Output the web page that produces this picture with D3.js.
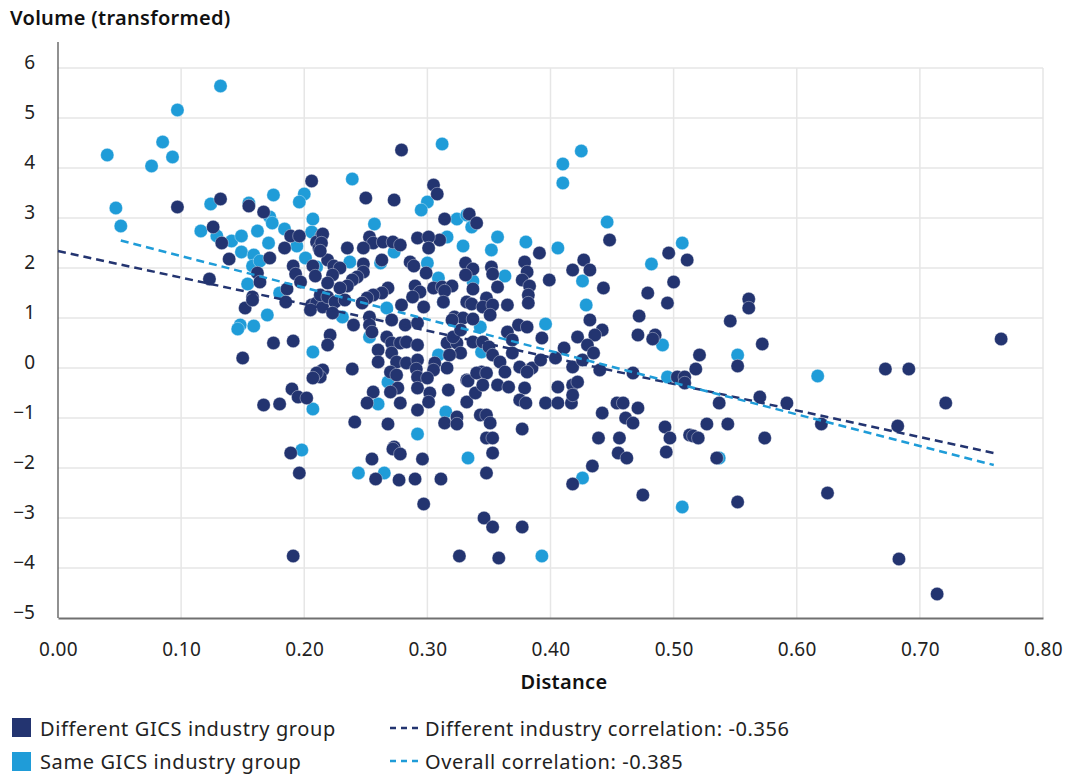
<!DOCTYPE html>
<html><head><meta charset="utf-8">
<script src="https://cdn.jsdelivr.net/npm/d3@7"></script>
<style>body{margin:0;background:#fff}svg{font-family:"Noto Sans",sans-serif}</style>
</head><body><svg id="c" width="1070" height="774"></svg>
<script>
// ---------- data ----------
const xTicks = [0, 0.1, 0.2, 0.3, 0.4, 0.5, 0.6, 0.7, 0.8];
const yTicks = [-5, -4, -3, -2, -1, 0, 1, 2, 3, 4, 5, 6];
const seriesNames = ["Different GICS industry group", "Same GICS industry group"];
const lineNames = ["Different industry correlation: -0.356", "Overall correlation: -0.385"];

// Same GICS industry group (light)
const sameDistance = [
0.047,0.051,0.040,0.076,0.085,0.093,0.097,0.132,0.124,0.155,
0.175,0.172,0.174,0.116,0.129,0.141,0.149,0.162,0.171,0.184,
0.206,0.194,0.149,0.159,0.158,0.164,0.201,0.210,0.154,0.180,
0.200,0.196,0.207,0.239,0.300,0.295,0.312,0.257,0.324,0.332,
0.336,0.316,0.329,0.273,0.262,0.237,0.300,0.309,0.337,0.313,
0.410,0.410,0.425,0.446,0.507,0.482,0.491,0.357,0.352,0.380,
0.406,0.426,0.429,0.396,0.363,0.343,0.231,0.253,0.309,0.268,
0.260,0.315,0.292,0.170,0.148,0.146,0.159,0.207,0.207,0.198,
0.244,0.265,0.333,0.426,0.507,0.393,0.495,0.552,0.537,0.617,
0.267,0.344];
const sameVolume = [
3.20,2.84,4.26,4.04,4.52,4.22,5.16,5.64,3.28,3.30,
3.46,3.02,2.90,2.74,2.64,2.54,2.64,2.74,2.50,2.78,
2.72,2.44,2.32,2.26,2.04,2.14,2.20,2.02,1.68,1.50,
3.48,3.32,2.98,3.78,3.32,3.16,4.48,2.88,2.98,3.06,
2.82,2.62,2.44,2.32,2.10,2.12,2.10,1.80,1.74,1.32,
3.70,4.08,4.34,2.92,2.50,2.08,0.46,2.62,2.36,2.52,
2.40,1.74,1.26,0.88,1.84,0.82,1.02,0.62,0.26,-0.28,
-0.72,-0.88,-1.32,1.06,0.86,0.78,0.84,0.32,-0.82,-1.64,
-2.10,-2.10,-1.80,-2.20,-2.78,-3.76,-0.18,0.26,-1.80,-0.16,
1.20,0.32];

// Different GICS industry group (dark)
const diffDistance = [
0.097,0.132,0.155,0.167,0.126,0.133,0.184,0.189,0.196,0.214,
0.210,0.212,0.139,0.172,0.191,0.193,0.197,0.207,0.209,0.219,
0.123,0.162,0.164,0.158,0.152,0.186,0.185,0.206,0.210,0.215,
0.206,0.250,0.273,0.305,0.308,0.279,0.314,0.334,0.340,0.310,
0.292,0.301,0.301,0.215,0.214,0.213,0.235,0.253,0.256,0.248,
0.264,0.272,0.278,0.263,0.224,0.229,0.248,0.248,0.286,0.289,
0.299,0.331,0.337,0.331,0.243,0.239,0.235,0.229,0.223,0.219,
0.268,0.263,0.256,0.251,0.290,0.294,0.288,0.305,0.312,0.320,
0.332,0.213,0.219,0.225,0.233,0.448,0.496,0.511,0.500,0.479,
0.495,0.472,0.471,0.485,0.483,0.391,0.427,0.418,0.432,0.443,
0.432,0.442,0.436,0.399,0.379,0.381,0.377,0.383,0.382,0.382,
0.352,0.353,0.314,0.313,0.337,0.336,0.357,0.348,0.345,0.353,
0.365,0.351,0.322,0.329,0.337,0.374,0.381,0.365,0.369,0.393,
0.411,0.422,0.430,0.316,0.324,0.337,0.345,0.350,0.353,0.369,
0.316,0.327,0.344,0.359,0.375,0.385,0.392,0.404,0.418,0.426,
0.435,0.440,0.467,0.503,0.509,0.223,0.240,0.221,0.219,0.253,
0.253,0.255,0.267,0.260,0.271,0.278,0.283,0.292,0.271,0.275,
0.260,0.283,0.292,0.291,0.306,0.305,0.318,0.321,0.327,0.320,
0.270,0.275,0.292,0.300,0.215,0.213,0.239,0.276,0.270,0.256,
0.251,0.278,0.292,0.302,0.301,0.292,0.317,0.332,0.332,0.324,
0.314,0.324,0.241,0.268,0.273,0.158,0.205,0.175,0.191,0.150,
0.210,0.207,0.190,0.195,0.202,0.167,0.180,0.189,0.196,0.191,
0.255,0.272,0.278,0.296,0.258,0.277,0.290,0.311,0.297,0.326,
0.346,0.353,0.377,0.358,0.333,0.340,0.348,0.363,0.381,0.339,
0.345,0.357,0.366,0.379,0.375,0.380,0.396,0.406,0.417,0.406,
0.418,0.422,0.418,0.343,0.348,0.351,0.377,0.348,0.353,0.353,
0.348,0.442,0.454,0.459,0.471,0.461,0.467,0.439,0.456,0.455,
0.462,0.434,0.418,0.475,0.493,0.497,0.494,0.513,0.561,0.561,
0.546,0.572,0.521,0.518,0.552,0.509,0.570,0.537,0.592,0.527,
0.544,0.516,0.520,0.574,0.535,0.672,0.691,0.766,0.721,0.620,
0.682,0.625,0.552,0.683,0.714,0.279,0.297,0.247,0.271,0.282,
0.292];
const diffVolume = [
3.22,3.38,3.24,3.12,2.82,2.50,2.40,2.64,2.64,2.64,
2.52,2.40,2.18,2.20,2.04,1.88,1.72,2.04,1.84,2.16,
1.78,1.90,1.72,1.42,1.20,1.58,1.32,1.26,1.30,1.22,
3.74,3.40,3.36,3.66,3.48,4.36,2.98,3.08,2.90,2.56,
2.60,2.62,2.40,2.68,2.50,2.34,2.40,2.62,2.50,2.40,
2.52,2.52,2.46,2.16,2.04,2.00,2.08,1.92,2.12,2.04,
1.90,2.10,1.98,1.86,1.82,1.76,1.64,1.60,1.86,1.70,
1.60,1.50,1.46,1.40,1.64,1.52,1.42,1.60,1.62,1.64,
1.32,1.46,1.42,1.32,1.36,2.56,2.30,2.16,1.72,1.50,
1.30,1.04,0.66,0.66,0.58,2.30,2.16,1.96,1.96,1.60,
0.96,0.76,0.66,1.76,2.12,1.92,1.76,1.64,1.46,1.30,
2.02,1.88,1.54,1.32,1.58,1.28,1.62,1.40,1.22,1.26,
1.26,1.06,1.02,1.00,0.98,0.86,0.82,0.72,0.56,0.60,
0.40,0.62,0.46,0.50,0.50,0.52,0.52,0.42,0.26,0.30,
0.00,0.30,-0.08,0.12,0.02,0.00,0.16,0.20,0.02,0.16,
0.30,-0.04,-0.10,-0.18,-0.18,1.10,0.86,0.66,0.46,1.02,
0.86,0.72,0.62,0.36,0.50,0.50,0.52,0.46,0.30,0.12,
0.12,0.10,0.16,-0.02,0.10,-0.04,0.26,0.62,0.76,0.96,
-0.08,-0.14,-0.18,-0.20,-0.04,-0.18,-0.02,-0.40,-0.48,-0.48,
-0.70,-0.70,-0.40,-0.50,-0.68,-0.84,-0.44,-0.24,-0.68,-0.98,
-1.10,-1.12,-1.08,-1.12,-1.58,1.36,1.16,0.50,0.54,0.20,
-0.10,-0.20,-0.42,-0.58,-0.60,-0.74,-0.72,-1.70,-2.10,-3.76,
-1.82,-1.62,-1.72,-1.82,-2.22,-2.24,-2.22,-2.22,-2.72,-3.76,
-3.00,-3.18,-3.18,-3.80,-0.26,-0.10,-0.10,-0.08,-0.08,-0.50,
-0.34,-0.34,-0.38,-0.40,-0.64,-0.70,-0.70,-0.70,-0.70,-0.38,
-0.34,-0.28,-0.54,-0.94,-0.94,-1.10,-1.22,-1.40,-1.40,-1.70,
-2.10,-0.90,-0.70,-0.70,-0.80,-1.00,-1.10,-1.40,-1.40,-1.70,
-1.80,-1.96,-2.32,-2.54,-1.18,-1.40,-1.68,-1.34,1.38,1.20,
0.94,0.48,0.26,-0.02,0.04,-0.30,-0.58,-0.70,-0.70,-1.12,
-1.12,-1.36,-1.40,-1.40,-1.80,-0.02,-0.02,0.58,-0.70,-1.12,
-1.16,-2.50,-2.68,-3.82,-4.52,1.26,1.22,1.30,0.96,0.86,
0.90];

// fitted trend lines (endpoints)
const diffLineX = [0.0, 0.76];
const diffLineY = [2.34, -1.70];
const overallLineX = [0.051, 0.76];
const overallLineY = [2.55, -1.94];

// ---------- drawing ----------
const DARK = "#233470", LIGHT = "#1f9cd8";
const svg = d3.select("#c");
const x = d3.scaleLinear().domain([0, 0.8]).range([58, 1043]);
const y = d3.scaleLinear().domain([-5, 6]).range([618, 68]);

// gridlines
svg.append("g").selectAll("line").data(yTicks.filter(d => d > -5)).join("line")
  .attr("x1", x(0)).attr("x2", x(0.8)).attr("y1", d => y(d)).attr("y2", d => y(d))
  .attr("stroke", "#e6e6e6").attr("stroke-width", 1.5);
svg.append("g").selectAll("line").data(xTicks.filter(d => d > 0)).join("line")
  .attr("x1", d => x(d)).attr("x2", d => x(d)).attr("y1", y(6)).attr("y2", y(-5))
  .attr("stroke", "#e6e6e6").attr("stroke-width", 1.5);

// axes
const gx = svg.append("g").attr("transform", `translate(0,${y(-5)})`)
  .call(d3.axisBottom(x).tickValues(xTicks).tickFormat(d3.format(".2f")).tickSize(0).tickPadding(25));
gx.select(".domain").attr("stroke", "#707070").attr("stroke-width", 2);
gx.selectAll("text").attr("font-size", 19).attr("fill", "#222").attr("font-family", "Noto Sans")
  .attr("letter-spacing", 0.3);

const gy = svg.append("g").attr("transform", `translate(${x(0)},0)`)
  .call(d3.axisLeft(y).tickValues(yTicks).tickFormat(d => d < 0 ? "\u2212" + Math.abs(d) : String(d)).tickSize(0).tickPadding(23));
gy.select(".domain").remove();
gy.selectAll("text").attr("font-size", 19).attr("fill", "#222").attr("font-family", "Noto Sans").attr("y", -6);
svg.append("line").attr("x1", x(0)).attr("x2", x(0)).attr("y1", 42).attr("y2", y(-5))
  .attr("stroke", "#555").attr("stroke-width", 1.3);

// titles
svg.append("text").attr("x", 10).attr("y", 25).attr("font-size", 20).attr("font-weight", 600)
  .attr("letter-spacing", 0.3).attr("fill", "#111").text("Volume (transformed)");
svg.append("text").attr("x", 564).attr("y", 689).attr("text-anchor", "middle").attr("font-size", 20)
  .attr("font-weight", 600).attr("letter-spacing", 0.3).attr("fill", "#111").text("Distance");

// points
const same = d3.zip(sameDistance, sameVolume);
const diff = d3.zip(diffDistance, diffVolume);
svg.append("g").selectAll("circle").data(same).join("circle")
  .attr("cx", d => x(d[0])).attr("cy", d => y(d[1])).attr("r", 6.7)
  .attr("fill", LIGHT).attr("stroke", "#fff").attr("stroke-width", 0.6).attr("stroke-opacity", 0.6);
svg.append("g").selectAll("circle").data(diff).join("circle")
  .attr("cx", d => x(d[0])).attr("cy", d => y(d[1])).attr("r", 6.7)
  .attr("fill", DARK).attr("stroke", "#fff").attr("stroke-width", 0.6).attr("stroke-opacity", 0.6);

// trend lines
const line = d3.line().x(d => x(d[0])).y(d => y(d[1]));
svg.append("path").datum(d3.zip(diffLineX, diffLineY)).attr("d", line)
  .attr("fill", "none").attr("stroke", DARK).attr("stroke-width", 2.5).attr("stroke-dasharray", "8,5");
svg.append("path").datum(d3.zip(overallLineX, overallLineY)).attr("d", line)
  .attr("fill", "none").attr("stroke", LIGHT).attr("stroke-width", 2.5).attr("stroke-dasharray", "8,5");

// legend
const lg = svg.append("g").attr("font-size", 20).attr("letter-spacing", 0.6).attr("fill", "#222");
[[DARK, 718, 736], [LIGHT, 752, 769]].forEach((s, i) => {
  lg.append("rect").attr("x", 12).attr("y", s[1]).attr("width", 19).attr("height", 19).attr("fill", s[0]);
  lg.append("text").attr("x", 40).attr("y", s[2]).text(seriesNames[i]);
});
[[DARK, 728, 736], [LIGHT, 761, 769]].forEach((s, i) => {
  lg.append("line").attr("x1", 390).attr("x2", 418).attr("y1", s[1]).attr("y2", s[1])
    .attr("stroke", s[0]).attr("stroke-width", 2.5).attr("stroke-dasharray", "6,5");
  lg.append("text").attr("x", 425).attr("y", s[2]).text(lineNames[i]);
});
</script></body></html>
